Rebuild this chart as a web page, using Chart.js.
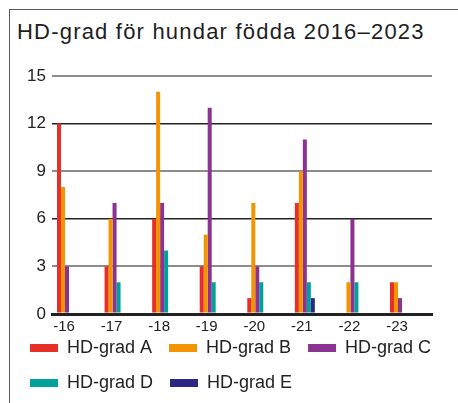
<!DOCTYPE html>
<html>
<head>
<meta charset="utf-8">
<script src="https://cdn.jsdelivr.net/npm/chart.js@4"></script>
<style>
  html, body { margin: 0; padding: 0; background: #fff; }
  #wrap { position: relative; width: 458px; height: 403px; overflow: hidden; }
  #frame { position: absolute; left: 9px; top: 9px; right: -5px; bottom: -5px;
           border-left: 1.5px solid #5a5a5a; border-top: 1.5px solid #5a5a5a; }
  #title { position: absolute; left: 17px; top: 19px; line-height: 22px; white-space: nowrap;
           font: 22px "Liberation Sans", Arial, sans-serif; letter-spacing: 1.2px; color: #1e1e1e; }
  canvas { position: absolute; left: 0; top: 0; }
</style>
</head>
<body>
<div id="wrap">
  <div id="frame"></div>
  <div id="title">HD-grad för hundar födda 2016–2023</div>
  <canvas id="c" width="458" height="403"></canvas>
</div>
<script>
// --- data ---
const years = ['-16', '-17', '-18', '-19', '-20', '-21', '-22', '-23'];
const gradA = [12, 3, 6, 3, 1, 7, 0, 2];
const gradB = [8, 6, 14, 5, 7, 9, 2, 2];
const gradC = [3, 7, 7, 13, 3, 11, 6, 1];
const gradD = [0, 2, 4, 2, 2, 2, 2, 0];
const gradE = [0, 0, 0, 0, 0, 1, 0, 0];
const yTicks = [0, 3, 6, 9, 12, 15];

const FONT = '"Liberation Sans", Arial, sans-serif';

// punkter {x: index, y: värde}
const pts = arr => arr.map((v, i) => ({ x: i, y: v }));

const series = [
  { label: 'HD-grad A', data: gradA, color: '#e63027' },
  { label: 'HD-grad B', data: gradB, color: '#f49400' },
  { label: 'HD-grad C', data: gradC, color: '#8a3391' },
  { label: 'HD-grad D', data: gradD, color: '#00a19a' },
  { label: 'HD-grad E', data: gradE, color: '#2b2783' }
];

// x-axeln är bara 8px hög i layouten (så legenden hamnar rätt),
// men etiketterna behöver plats när de ritas
const xLabelRoom = {
  id: 'xLabelRoom',
  afterLayout(chart) {
    const x = chart.scales.x;
    x.height = 26;
    x.bottom = x.top + 26;
  }
};

new Chart(document.getElementById('c'), {
  type: 'bar',
  data: {
    datasets: series.map(s => ({
      label: s.label,
      data: pts(s.data),
      backgroundColor: s.color,
      borderWidth: 0,
      categoryPercentage: 0.42,
      barPercentage: 1.0
    }))
  },
  plugins: [xLabelRoom],
  options: {
    responsive: false,
    animation: false,
    devicePixelRatio: 1,
    layout: { padding: { top: 76, left: 13, right: 0, bottom: 1 } },
    scales: {
      x: {
        type: 'linear',
        offset: false,
        min: -0.315,
        max: 7.673,
        grid: { display: false, drawTicks: false },
        border: { display: true, color: '#222', width: 3 },
        ticks: {
          stepSize: 1,
          includeBounds: false,
          autoSkip: false,
          maxRotation: 0,
          padding: 4,
          labelOffset: -3,
          color: '#222',
          font: { family: FONT, size: 15 },
          callback: v => years[v]
        },
        afterFit: s => { s.height = 8; }
      },
      y: {
        min: 0,
        max: 15,
        afterBuildTicks: s => { s.ticks = yTicks.map(v => ({ value: v })); },
        grid: {
          drawTicks: false,
          color: c => (c.tick.value % 6 === 0 ? '#222' : '#8c8c8c'),
          lineWidth: c => (c.tick.value === 0 ? 3 : (c.tick.value % 6 === 0 ? 1.5 : 2))
        },
        border: { display: false },
        ticks: { padding: 6, color: '#222', font: { family: FONT, size: 17 } },
        afterFit: s => { s.width = 39; }
      },
      // tom axel till höger, bara för luft
      y2: {
        position: 'right',
        grid: { display: false },
        border: { display: false },
        ticks: { display: false },
        afterFit: s => { s.width = 26; }
      }
    },
    plugins: {
      title: { display: false },
      tooltip: { enabled: false },
      legend: {
        position: 'bottom',
        align: 'start',
        labels: {
          boxWidth: 28,
          boxHeight: 8,
          padding: 17,
          color: '#222',
          font: { family: FONT, size: 18 }
        }
      }
    }
  }
});
</script>
</body>
</html>
